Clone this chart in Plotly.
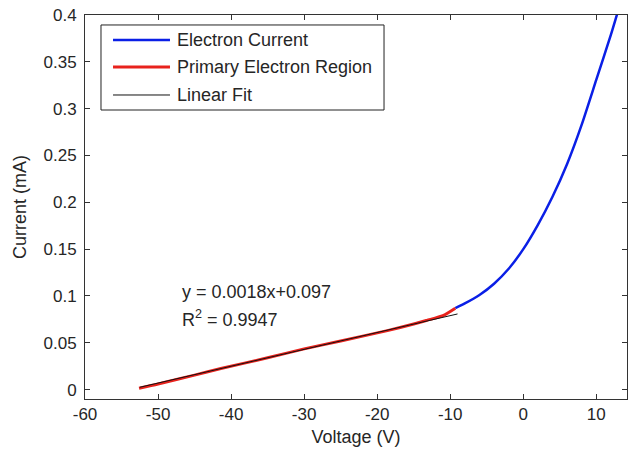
import plotly.graph_objects as go

# Electron current (blue)
elec_v = [-9.3, -8.0, -6.0, -4.0, -2.0, 0.0, 2.0, 4.0, 6.0, 8.0, 10.0, 12.0, 13.0]
elec_i = [0.087, 0.092, 0.101, 0.113, 0.129, 0.150, 0.176, 0.206, 0.241, 0.283, 0.331, 0.379, 0.405]

# Primary electron region (red)
prim_v = [-52.6, -50.0, -45.0, -41.4, -35.0, -30.0, -25.0, -18.6, -15.0, -13.2, -11.0, -9.3]
prim_i = [0.0015, 0.006, 0.0155, 0.0225, 0.034, 0.0435, 0.052, 0.063, 0.070, 0.074, 0.079, 0.087]

# Linear fit (black)
fit_v = [-52.5, -9.0]
fit_i = [0.0025, 0.0808]

series_names = ["Electron Current", "Primary Electron Region", "Linear Fit"]
series_colors = ["#0a1fe6", "#e8221c", "#111111"]
series_widths = [2.5, 3, 1]

x_ticks = [-60, -50, -40, -30, -20, -10, 0, 10]
x_ticktext = ["-60", "-50", "-40", "-30", "-20", "-10", "0", "10"]
y_ticks = [0, 0.05, 0.1, 0.15, 0.2, 0.25, 0.3, 0.35, 0.4]
y_ticktext = ["0", "0.05", "0.1", "0.15", "0.2", "0.25", "0.3", "0.35", "0.4"]

fit_eq = "y = 0.0018x+0.097"
fit_r2 = "R<sup>2</sup> = 0.9947"

font = "Liberation Sans, Arial, sans-serif"
txt = "#262626"

fig = go.Figure()
data = [(elec_v, elec_i), (prim_v, prim_i), (fit_v, fit_i)]
for (xv, yv), nm, col, w in zip(data, series_names, series_colors, series_widths):
    fig.add_trace(go.Scatter(x=xv, y=yv, mode="lines", name=nm, showlegend=False,
                             line=dict(color=col, width=w, shape="spline", smoothing=0.6)))

fig.add_annotation(x=-47, y=0.104, xref="x", yref="y", text=fit_eq, showarrow=False,
                   xanchor="left", yanchor="middle", font=dict(family=font, size=18, color=txt))
fig.add_annotation(x=-47, y=0.076, xref="x", yref="y", text=fit_r2, showarrow=False,
                   xanchor="left", yanchor="middle", font=dict(family=font, size=18, color=txt))

# legend box (drawn in paper coordinates)
fig.add_shape(type="rect", xref="paper", yref="paper", x0=0.0295, x1=0.5517, y0=0.7526, y1=0.974,
              line=dict(color="#222222", width=1), fillcolor="white", layer="above")
row_y = [0.9349, 0.8646, 0.7917]
for ry, nm, col, w in zip(row_y, series_names, series_colors, series_widths):
    fig.add_shape(type="line", xref="paper", yref="paper", x0=0.0517, x1=0.1568, y0=ry, y1=ry,
                  line=dict(color=col, width=w), layer="above")
    fig.add_annotation(x=0.166, y=ry, xref="paper", yref="paper", text=nm, showarrow=False,
                       xanchor="left", yanchor="middle", font=dict(family=font, size=18, color=txt))

axis_common = dict(showline=True, linecolor="#333333", linewidth=1, mirror="ticks",
                   ticks="inside", ticklen=5, tickcolor="#333333", showgrid=False,
                   zeroline=False, tickfont=dict(family=font, size=17, color=txt))

fig.update_xaxes(range=[-60, 14.2], tickvals=x_ticks, ticktext=x_ticktext,
                 title=dict(text="Voltage (V)", font=dict(family=font, size=18, color=txt), standoff=6),
                 **axis_common)
fig.update_yaxes(range=[-0.01, 0.4], tickvals=y_ticks, ticktext=y_ticktext,
                 title=dict(text="Current (mA)", font=dict(family=font, size=18, color=txt), standoff=12),
                 ticklabelstandoff=4,
                 **axis_common)

fig.update_layout(
    width=628, height=451,
    margin=dict(l=85, r=1, t=15, b=52),
    paper_bgcolor="white", plot_bgcolor="white",
    showlegend=False,
)

fig.write_html("out.html")
